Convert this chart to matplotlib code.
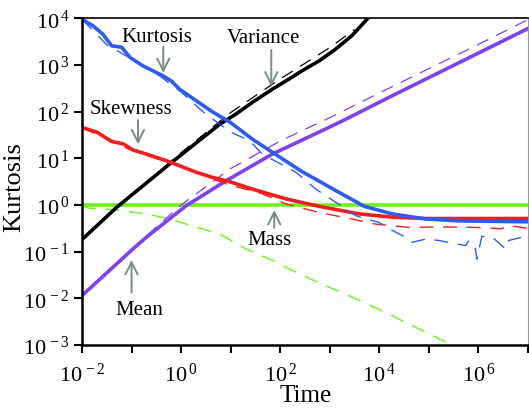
import numpy as np
import matplotlib
matplotlib.use("Agg")
import matplotlib.pyplot as plt
from matplotlib.ticker import FixedLocator, FuncFormatter

plt.rcParams['font.family'] = ['Liberation Serif', 'DejaVu Serif']
plt.rcParams['mathtext.fontset'] = 'custom'
plt.rcParams['mathtext.rm'] = 'Liberation Serif'
plt.rcParams['mathtext.it'] = 'Liberation Serif:italic'

# values, as log10(time) / log10(value)
var_t = [-2, -1.3, -0.23, 0.78, 1.11, 1.44, 1.84, 2.12, 2.45, 2.79, 3.12, 3.45, 3.77]
var_v = [-0.74, -0.05, 0.88, 1.73, 1.95, 2.2, 2.48, 2.66, 2.88, 3.09, 3.34, 3.63, 4.0]
var_dash_t = [-1, 0, 1, 2, 3, 3.5]
var_dash_v = [0.21, 1.12, 1.98, 2.70, 3.37, 3.76]

mean_t = [-2, -0.97, -0.70, 0.11, 0.91, 1.84, 2.92, 3.33, 4.26, 7.0]
mean_v = [-1.94, -0.94, -0.69, -0.01, 0.52, 1.09, 1.63, 1.84, 2.34, 3.78]
mean_dash_t = [-1, 0, 1, 2, 3, 4, 5, 6, 7]
mean_dash_v = [-0.95, 0.0, 0.78, 1.37, 1.87, 2.40, 2.92, 3.44, 3.97]

kurt_t = [-2, -1.78, -1.58, -1.40, -1.20, -1.03, -0.77, -0.37, -0.20, -0.03, 0.31,
          0.64, 0.98, 1.44, 1.84, 2.45, 3.12, 3.7, 4.26, 4.94, 5.6, 7.0]
kurt_v = [3.98, 3.84, 3.66, 3.41, 3.38, 3.16, 2.98, 2.77, 2.66, 2.48, 2.23,
          1.99, 1.78, 1.41, 1.13, 0.71, 0.31, -0.03, -0.19, -0.30, -0.34, -0.36]
kurt_dash_t = [-2, -1.5, -1, -0.5, 0, 0.47, 1.0, 1.38, 1.64, 2.32, 2.72, 3.12, 3.53,
               3.73, 3.99, 4.20, 4.53, 4.66, 4.94, 5.2, 5.4, 5.74, 5.81, 5.94, 5.97,
               6.07, 6.28, 6.55, 6.61, 6.88, 7.0]
kurt_dash_v = [3.98, 3.43, 3.13, 2.82, 2.42, 1.97, 1.56, 1.38, 1.09, 0.70, 0.34, 0.06, -0.23,
               -0.30, -0.37, -0.51, -0.69, -0.80, -0.73, -0.76, -0.80, -0.87, -0.76, -0.94, -1.16,
               -0.67, -0.69, -0.94, -0.76, -0.69, -0.80]

skew_t = [-2, -1.70, -1.40, -1.17, -0.97, -0.70, -0.30, -0.03, 0.31, 0.64, 0.98,
          1.44, 2.12, 2.79, 3.59, 4.26, 4.94, 7.0]
skew_v = [1.66, 1.56, 1.36, 1.31, 1.18, 1.09, 0.95, 0.84, 0.70, 0.59, 0.50,
          0.34, 0.13, -0.03, -0.19, -0.26, -0.29, -0.29]
skew_dash_t = [-2, -1, 0, 0.91, 1.64, 2.12, 2.79, 3.45, 3.93, 4.6, 5.3, 5.94, 6.47, 6.61, 7.0]
skew_dash_v = [1.66, 1.17, 0.82, 0.45, 0.24, 0.02, -0.16, -0.30, -0.41, -0.48, -0.47, -0.48,
               -0.51, -0.44, -0.50]

mass_t = [-2, 7]
mass_v = [0, 0]
mass_dash_t = [-2, -1.84, -1.38, -0.70, -0.23, 0.17, 0.78, 1.31, 1.85, 2.39, 2.92, 3.49,
               4.0, 4.6, 5.47, 5.6]
mass_dash_v = [-0.03, -0.07, -0.10, -0.19, -0.30, -0.43, -0.62, -0.94, -1.19, -1.48, -1.73,
               -1.99, -2.24, -2.55, -3.0, -3.07]


def p(a):
    return np.power(10.0, a)


fig = plt.figure(figsize=(5.29, 4.10), dpi=100)
ax = fig.add_axes([0.155, 0.156, 0.843, 0.797])

green = '#6ff01e'
blue = '#2e5cf0'
red = '#f51c1c'
purple = '#8040ec'
lw = 2.6

ax.plot(p(mass_t), p(mass_v), color=green, lw=lw, solid_capstyle='butt')
ax.plot(p(mass_dash_t), p(mass_dash_v), color=green, lw=1.0, dashes=(10, 7))
ax.plot(p(var_dash_t), p(var_dash_v), color='black', lw=0.9, dashes=(10, 7))
ax.plot(p(var_t), p(var_v), color='black', lw=lw)
ax.plot(p(mean_dash_t), p(mean_dash_v), color=purple, lw=0.9, dashes=(10, 7))
ax.plot(p(mean_t), p(mean_v), color=purple, lw=lw)
ax.plot(p(skew_dash_t), p(skew_dash_v), color=red, lw=1.0, dashes=(10, 7))
ax.plot(p(skew_t), p(skew_v), color=red, lw=lw)
ax.plot(p(kurt_dash_t), p(kurt_dash_v), color=blue, lw=1.0, dashes=(10, 7))
ax.plot(p(kurt_t), p(kurt_v), color=blue, lw=lw)

ax.set_xscale('log')
ax.set_yscale('log')
ax.set_xlim(1e-2, 1e7)
ax.set_ylim(1e-3, 1e4)

ax.xaxis.set_major_locator(FixedLocator([10.0 ** k for k in range(-2, 8)]))
ax.xaxis.set_minor_locator(FixedLocator([]))
ax.yaxis.set_major_locator(FixedLocator([10.0 ** k for k in range(-3, 5)]))
ax.yaxis.set_minor_locator(FixedLocator([]))


def xfmt(v, pos):
    k = int(round(np.log10(v)))
    if k % 2 == 0 and k < 7:
        return r'$\mathregular{10^{\,%d}}$' % k
    return ''


def yfmt(v, pos):
    k = int(round(np.log10(v)))
    return r'$\mathregular{10^{\,%d}}$' % k


ax.xaxis.set_major_formatter(FuncFormatter(xfmt))
ax.yaxis.set_major_formatter(FuncFormatter(yfmt))
ax.tick_params(axis='both', which='major', direction='out', length=6, width=1.5,
               labelsize=16)
ax.tick_params(axis='x', pad=7)
ax.tick_params(axis='y', pad=3)
ax.tick_params(top=False, right=False)

for s in ['left', 'bottom']:
    ax.spines[s].set_linewidth(1.8)
ax.spines['top'].set_linewidth(1.2)
ax.spines['right'].set_linewidth(0.8)
ax.spines['right'].set_color('#999999')

ax.set_xlabel('Time', fontsize=18)
ax.xaxis.set_label_coords(0.502, -0.118)
ax.set_ylabel('Kurtosis', fontsize=19)
ax.yaxis.set_label_coords(-0.128, 0.487)

arrow_c = '#7a8a8a'
aprops = dict(arrowstyle='->', color=arrow_c, lw=1.4, mutation_scale=22)
notes = [
    ('Kurtosis', (-0.50, 3.61), (-0.36, 3.45), (-0.36, 2.77)),
    ('Variance', (1.66, 3.58), (1.82, 3.38), (1.82, 2.48)),
    ('Skewness', (-1.02, 2.06), (-0.87, 1.88), (-0.87, 1.24)),
    ('Mass', (1.78, -0.73), (1.88, -0.55), (1.88, -0.05)),
    ('Mean', (-0.85, -2.23), (-1.0, -1.94), (-1.0, -1.12)),
]
for label, txy, tail, tip in notes:
    ax.text(p(txy[0]), p(txy[1]), label, fontsize=15, ha='center', va='center')
    ax.annotate('', xy=(p(tip[0]), p(tip[1])), xytext=(p(tail[0]), p(tail[1])),
                arrowprops=aprops)

fig.savefig('out.png', dpi=100)
